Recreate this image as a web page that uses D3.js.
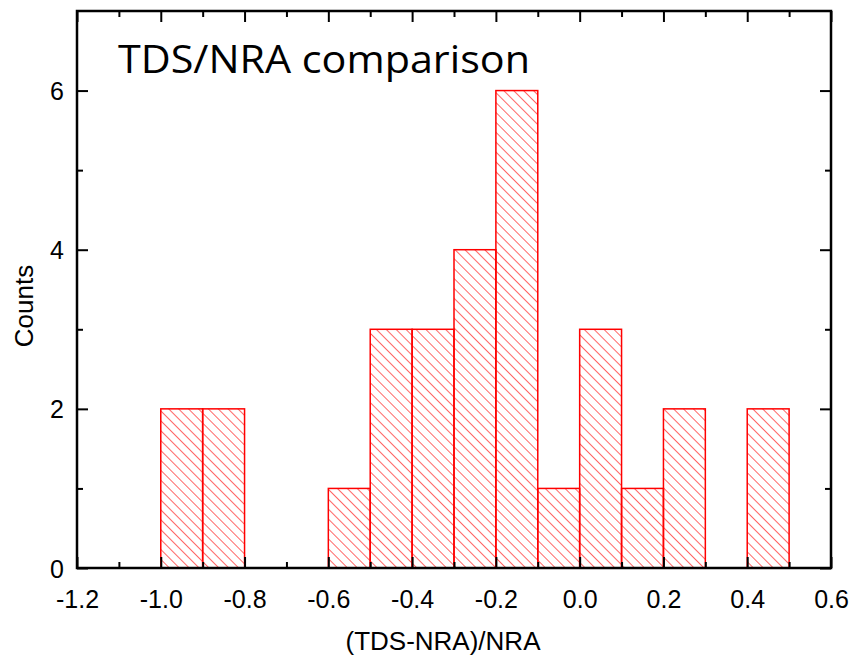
<!DOCTYPE html>
<html>
<head>
<meta charset="utf-8">
<script src="https://cdn.jsdelivr.net/npm/d3@7"></script>
<style>
  body { margin: 0; background: #fff; }
  text { font-family: "Liberation Sans", Arial, sans-serif; }
</style>
</head>
<body>
<script>
// Histogram bins (left edge, right edge) and counts
var binStart = [-1.0, -0.9, -0.6, -0.5, -0.4, -0.3, -0.2, -0.1, 0.0, 0.1, 0.2, 0.4];
var binEnd   = [-0.9, -0.8, -0.5, -0.4, -0.3, -0.2, -0.1, 0.0, 0.1, 0.2, 0.3, 0.5];
var counts   = [2, 2, 1, 3, 3, 4, 6, 1, 3, 1, 2, 2];

var xTicks = [-1.2, -1.0, -0.8, -0.6, -0.4, -0.2, 0.0, 0.2, 0.4, 0.6];
var yTicks = [0, 2, 4, 6];

var margin = {top: 11, right: 23, bottom: 88, left: 77},
    width = 854 - margin.left - margin.right,
    height = 656 - margin.top - margin.bottom;

var x = d3.scaleLinear().domain([-1.2, 0.6]).range([0, width]);
var y = d3.scaleLinear().domain([0, 7]).range([height, 0]);

var svg = d3.select("body").append("svg")
    .attr("width", 854)
    .attr("height", 656);

// hatch pattern (lines going down to the right)
var defs = svg.append("defs");
defs.append("pattern")
    .attr("id", "hatch")
    .attr("patternUnits", "userSpaceOnUse")
    .attr("width", 7)
    .attr("height", 7)
    .attr("patternTransform", "rotate(-45)")
  .append("line")
    .attr("x1", 0).attr("y1", 0)
    .attr("x2", 0).attr("y2", 7)
    .style("stroke", "#ff0000")
    .style("stroke-width", 1.2);

var g = svg.append("g")
    .attr("transform", "translate(" + margin.left + "," + margin.top + ")");

var bins = counts.map(function(c, i) { return [binStart[i], binEnd[i], c]; });

g.selectAll("rect.bar")
    .data(bins)
  .enter().append("rect")
    .attr("class", "bar")
    .attr("x", function(d) { return x(d[0]); })
    .attr("width", function(d) { return x(d[1]) - x(d[0]); })
    .attr("y", function(d) { return y(d[2]); })
    .attr("height", function(d) { return y(0) - y(d[2]); })
    .style("fill", "url(#hatch)")
    .style("stroke", "#ff0000")
    .style("stroke-width", 1.5);

// minor ticks
var xMinor = [-1.1, -0.9, -0.7, -0.5, -0.3, -0.1, 0.1, 0.3, 0.5];
var yMinor = [1, 3, 5];

// plain hyphen for negatives, like the original
var fmtX = function(d) { return d3.format(".1f")(d).replace("\u2212", "-"); };

function xAx(gen, minor) {
  return gen(x).tickValues(minor ? xMinor : xTicks)
    .tickSizeInner(minor ? -6 : -11).tickSizeOuter(0)
    .tickFormat(minor ? "" : fmtX);
}
function yAx(gen, minor) {
  return gen(y).tickValues(minor ? yMinor : yTicks)
    .tickSizeInner(minor ? -6 : -11).tickSizeOuter(0)
    .tickFormat(minor ? "" : d3.format("d"));
}

var axBottom = g.append("g").attr("transform", "translate(0," + height + ")");
axBottom.call(xAx(d3.axisBottom, false));
axBottom.append("g").call(xAx(d3.axisBottom, true));
var axTop = g.append("g");
axTop.call(xAx(d3.axisTop, false).tickFormat(""));
axTop.append("g").call(xAx(d3.axisTop, true));
var axLeft = g.append("g");
axLeft.call(yAx(d3.axisLeft, false));
axLeft.append("g").call(yAx(d3.axisLeft, true));
var axRight = g.append("g").attr("transform", "translate(" + width + ",0)");
axRight.call(yAx(d3.axisRight, false).tickFormat(""));
axRight.append("g").call(yAx(d3.axisRight, true));

g.selectAll(".tick line").style("stroke", "#000").style("stroke-width", 2);
g.selectAll(".domain").remove();
g.selectAll(".tick text")
    .style("font-size", "25px")
    .style("font-family", "'Liberation Sans', Arial, sans-serif")
    .style("fill", "#000");
axBottom.selectAll(".tick text").attr("y", 22).attr("dy", "0.71em");
axLeft.selectAll(".tick text").attr("x", -13).attr("dy", "0.36em");

g.append("rect")
    .attr("width", width)
    .attr("height", height)
    .style("fill", "none")
    .style("stroke", "#000")
    .style("stroke-width", 2.5);

g.append("text")
    .attr("x", 41)
    .attr("y", 62)
    .attr("textLength", 412)
    .attr("lengthAdjust", "spacingAndGlyphs")
    .style("font-family", "'Open Sans', sans-serif")
    .style("font-size", "39px")
    .text("TDS/NRA comparison");

svg.append("text")
    .attr("x", 443)
    .attr("y", 650)
    .style("text-anchor", "middle")
    .style("font-size", "26px")
    .text("(TDS-NRA)/NRA");

svg.append("text")
    .attr("transform", "translate(33,306) rotate(-90)")
    .style("text-anchor", "middle")
    .style("font-size", "26px")
    .text("Counts");
</script>
</body>
</html>
